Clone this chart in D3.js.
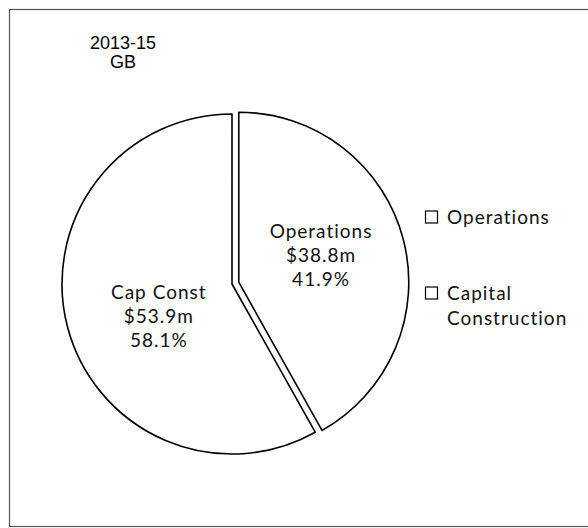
<!DOCTYPE html>
<html>
<head>
<meta charset="utf-8">
<script src="https://cdn.jsdelivr.net/npm/d3@7"></script>
<style>
  body { margin: 0; background: #fff; }
  svg { display: block; }
</style>
</head>
<body>
<div id="chart"></div>
<script>
// data
const categories = ["Operations", "Capital Construction"];
const sliceNames = ["Operations", "Cap Const"];
const values = [38.8, 53.9];          // $m
const legendLines = [["Operations"], ["Capital", "Construction"]];
const title = ["2013-15", "GB"];

const width = 588, height = 528;
const cx = 232, cy = 284, radius = 170;
const explode = [7, 0];
const labelNudge = [[0, -6], [9, 10]];
const labelFont = "Lato, 'Open Sans', sans-serif";

const svg = d3.select("#chart").append("svg")
    .attr("width", width)
    .attr("height", height);

// outer frame (runs off the right edge like the scan)
svg.append("rect")
    .attr("x", 9.5).attr("y", 9.5)
    .attr("width", 600).attr("height", 517)
    .attr("fill", "none")
    .attr("stroke", "#555")
    .attr("stroke-width", 1.2);

svg.append("g")
    .attr("font-family", "'Liberation Sans', Arial, sans-serif")
    .attr("font-size", 18)
    .attr("text-anchor", "middle")
    .selectAll("text")
    .data(title)
    .enter().append("text")
    .attr("x", 123)
    .attr("y", (d, i) => 49 + i * 19)
    .text(d => d);

const total = d3.sum(values);
const pie = d3.pie().sort(null).value(d => d);
const arcs = pie(values);

const arc = d3.arc().innerRadius(0).outerRadius(radius);
const labelArc = d3.arc().innerRadius(radius * 0.5).outerRadius(radius * 0.5);

const slices = svg.append("g")
    .attr("transform", `translate(${cx},${cy})`)
    .selectAll("g")
    .data(arcs)
    .enter().append("g")
    .attr("transform", (d, i) => {
        const a = (d.startAngle + d.endAngle) / 2;
        return `translate(${Math.sin(a) * explode[i]},${-Math.cos(a) * explode[i]})`;
    });

slices.append("path")
    .attr("d", arc)
    .attr("fill", "#fff")
    .attr("stroke", "#000")
    .attr("stroke-width", 1.6)
    .attr("stroke-linejoin", "round");

slices.append("text")
    .attr("font-family", labelFont)
    .attr("font-size", 19)
    .attr("letter-spacing", 1)
    .attr("text-anchor", "middle")
    .attr("fill", "#111")
    .attr("transform", (d, i) => {
        const [x, y] = labelArc.centroid(d);
        return `translate(${x + labelNudge[i][0]},${y + labelNudge[i][1]})`;
    })
    .selectAll("tspan")
    .data((d, i) => [sliceNames[i], "$" + values[i].toFixed(1) + "m", (values[i] / total * 100).toFixed(1) + "%"])
    .enter().append("tspan")
    .attr("x", 0)
    .attr("y", (d, i) => (i - 1) * 24 + 7)
    .text(d => d);

// legend
const legendY = d3.scalePoint().domain(categories).range([217, 293]);

const legend = svg.append("g")
    .attr("font-family", labelFont)
    .attr("font-size", 19)
    .attr("letter-spacing", 1)
    .selectAll("g")
    .data(categories)
    .enter().append("g")
    .attr("transform", d => `translate(425,${legendY(d)})`);

legend.append("rect")
    .attr("x", 0.5).attr("y", -6)
    .attr("width", 12).attr("height", 12)
    .attr("fill", "#fff")
    .attr("stroke", "#000")
    .attr("stroke-width", 1.2);

legend.append("text")
    .attr("fill", "#111")
    .selectAll("tspan")
    .data((d, i) => legendLines[i])
    .enter().append("tspan")
    .attr("x", 22)
    .attr("y", (d, i) => i * 25 + 7)
    .text(d => d);
</script>
</body>
</html>
